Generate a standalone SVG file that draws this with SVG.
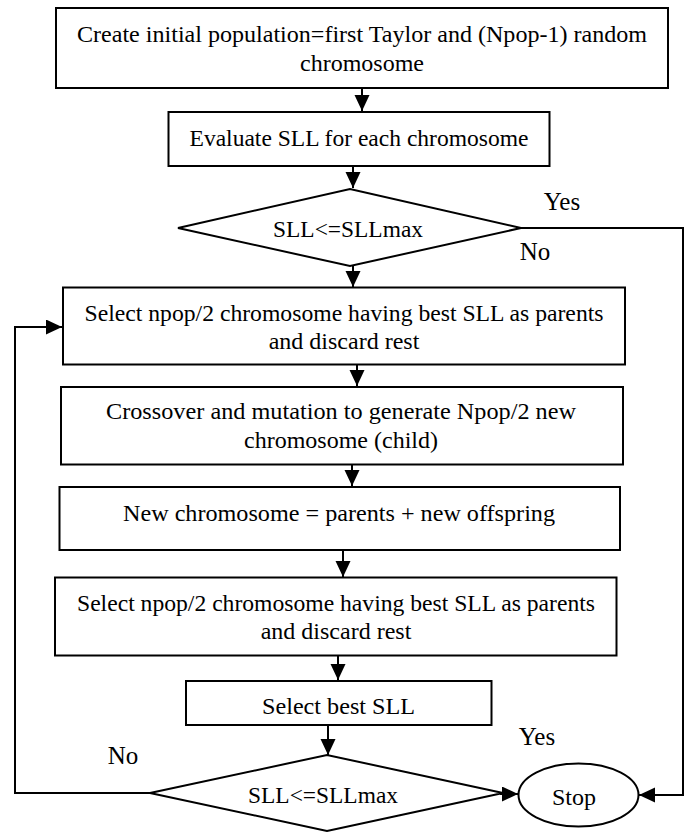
<svg xmlns="http://www.w3.org/2000/svg" width="692" height="832" viewBox="0 0 692 832">
<style>
.box{fill:#fff;stroke:#000;stroke-width:2}
.ln{fill:none;stroke:#000;stroke-width:2}
text{font-family:"Liberation Serif","Times New Roman",Times,Tinos,"Nimbus Roman","Noto Serif","DejaVu Serif",FreeSerif,serif;font-size:24px;fill:#000;text-anchor:middle}
.lbl{font-size:25px}
</style>
<defs>
<marker id="ah" markerUnits="userSpaceOnUse" markerWidth="16" markerHeight="16" refX="16" refY="7.5" orient="auto">
<path d="M0,0 L16,7.5 L0,15 z" fill="#000"/>
</marker>
</defs>
<g id="connectors">
<line class="ln" x1="362" y1="88" x2="362" y2="111" marker-end="url(#ah)"/>
<line class="ln" x1="353" y1="166" x2="353" y2="188" marker-end="url(#ah)"/>
<line class="ln" x1="353" y1="266" x2="353" y2="287" marker-end="url(#ah)"/>
<line class="ln" x1="357" y1="365" x2="357" y2="386" marker-end="url(#ah)"/>
<line class="ln" x1="352" y1="465" x2="352" y2="486" marker-end="url(#ah)"/>
<line class="ln" x1="343" y1="551" x2="343" y2="577" marker-end="url(#ah)"/>
<line class="ln" x1="338" y1="656" x2="338" y2="680" marker-end="url(#ah)"/>
<line class="ln" x1="328" y1="725" x2="328" y2="755" marker-end="url(#ah)"/>
<line class="ln" x1="500" y1="794" x2="518" y2="794" marker-end="url(#ah)"/>
<polyline class="ln" points="150,793 15,793 15,327 62,327" marker-end="url(#ah)"/>
<polyline class="ln" points="521,228 683,228 683,795 639,795" marker-end="url(#ah)"/>
<text class="lbl" x="562" y="210" font-family="Liberation Serif">Yes</text>
<text class="lbl" x="535" y="260" font-family="Liberation Serif">No</text>
<text class="lbl" x="123" y="764" font-family="Liberation Serif">No</text>
<text class="lbl" x="537" y="745" font-family="Liberation Serif">Yes</text>
</g>
<g id="n1">
<rect class="box" x="56" y="8" width="612" height="80"/>
<text x="362" y="42" textLength="570" lengthAdjust="spacingAndGlyphs">Create initial population=first Taylor and (Npop-1) random</text>
<text x="362" y="70.5">chromosome</text>
</g>
<g id="n2">
<rect class="box" x="168.5" y="112" width="381" height="54"/>
<text x="359" y="145.5" textLength="339" lengthAdjust="spacingAndGlyphs">Evaluate SLL for each chromosome</text>
</g>
<g id="d1">
<polygon class="box" points="178,228 350,189 521,228 350,266"/>
<text x="348" y="236.5" textLength="150" lengthAdjust="spacingAndGlyphs">SLL&lt;=SLLmax</text>
</g>
<g id="n3">
<rect class="box" x="63" y="287.5" width="562" height="77"/>
<text x="344" y="320.5" textLength="519" lengthAdjust="spacingAndGlyphs">Select npop/2 chromosome having best SLL as parents</text>
<text x="344" y="349">and discard rest</text>
</g>
<g id="n4">
<rect class="box" x="61" y="387" width="562" height="77.5"/>
<text x="341" y="419.3" textLength="470" lengthAdjust="spacingAndGlyphs">Crossover and mutation to generate Npop/2 new</text>
<text x="341" y="448">chromosome (child)</text>
</g>
<g id="n5">
<rect class="box" x="59.5" y="487" width="560.5" height="63"/>
<text x="339" y="520.5" textLength="432" lengthAdjust="spacingAndGlyphs">New chromosome = parents + new offspring</text>
</g>
<g id="n6">
<rect class="box" x="55" y="577.5" width="561.5" height="78"/>
<text x="336" y="610.5" textLength="518" lengthAdjust="spacingAndGlyphs">Select npop/2 chromosome having best SLL as parents</text>
<text x="336" y="639">and discard rest</text>
</g>
<g id="n7">
<rect class="box" x="186" y="681" width="305.5" height="44"/>
<text x="338.5" y="714" textLength="153" lengthAdjust="spacingAndGlyphs">Select best SLL</text>
</g>
<g id="d2">
<polygon class="box" points="150,793 327,755 503,793 327,831"/>
<text x="323" y="802.5" textLength="150" lengthAdjust="spacingAndGlyphs">SLL&lt;=SLLmax</text>
</g>
<g id="stop">
<ellipse class="box" cx="578.5" cy="795" rx="60" ry="31.5"/>
<text x="574" y="805">Stop</text>
</g>
</svg>
